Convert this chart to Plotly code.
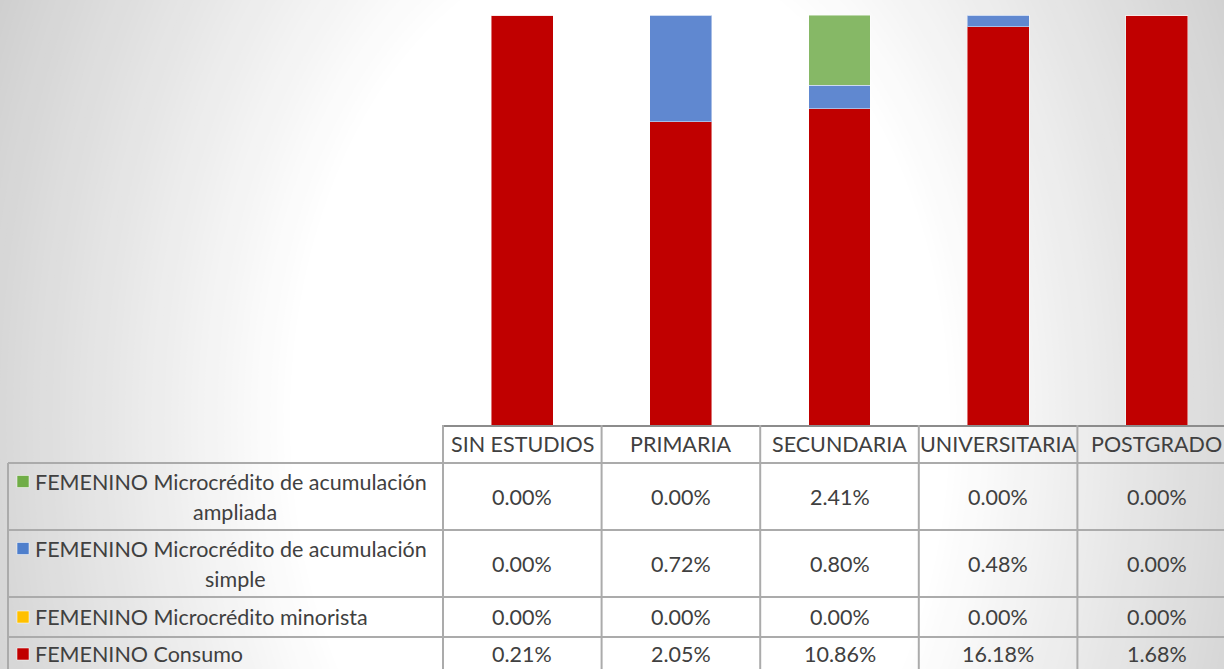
import plotly.graph_objects as go

# ---------------- data ----------------
categories = ["SIN ESTUDIOS", "PRIMARIA", "SECUNDARIA", "UNIVERSITARIA", "POSTGRADO"]
series_names = [
    "FEMENINO Consumo",
    "FEMENINO Microcrédito minorista",
    "FEMENINO Microcrédito de acumulación simple",
    "FEMENINO Microcrédito de acumulación ampliada",
]
consumo = [0.21, 2.05, 10.86, 16.18, 1.68]
minorista = [0.00, 0.00, 0.00, 0.00, 0.00]
acum_simple = [0.00, 0.72, 0.80, 0.48, 0.00]
acum_ampliada = [0.00, 0.00, 2.41, 0.00, 0.00]

# table rows, top to bottom (legend label lines, values)
table_rows = [
    (["FEMENINO Microcrédito de acumulación", "ampliada"], acum_ampliada),
    (["FEMENINO Microcrédito de acumulación", "simple"], acum_simple),
    (["FEMENINO Microcrédito minorista"], minorista),
    (["FEMENINO Consumo"], consumo),
]

# ---------------- styling ----------------
W, H = 1224, 669
bar_colors = ["#C00000", "#FFC000", "#6088D0", "#86B866"]
key_colors = ["#70AD47", "#4F7FCC", "#FFC000", "#C00000"]  # top-to-bottom rows
text_color = "#404040"
grid_color = "#ABABAB"
font_family = "Lato, Calibri, Carlito, sans-serif"
FS = 21.5


def px(x):
    return x / W


def py(y):
    return 1 - y / H


# pixel layout of the chart table
col_left = 443
col_w = 158.6
plot_top, plot_bottom = 15, 425
row_lines = [425, 463, 530, 597, 637, 669]

fig = go.Figure()
series = [consumo, minorista, acum_simple, acum_ampliada]
for name, vals, col in zip(series_names, series, bar_colors):
    fig.add_trace(go.Bar(
        x=list(range(len(categories))), y=vals, name=name,
        marker=dict(color=col, line=dict(color="rgba(255,255,255,0.45)", width=1)),
        hoverinfo="name+y",
    ))

shapes = []
# radial (elliptical) gradient background
cx, cy = 620, 420
rx0, ry0 = 330, 480
N = 60
s_max = 2.2
for i in range(N, -1, -1):
    s = 1 + (s_max - 1) * i / N
    g = max(205, int(round(255 - 44 * (s - 1))))
    c = f"rgb({g},{g},{g})"
    rx, ry = rx0 * s, ry0 * s
    shapes.append(dict(type="circle", xref="paper", yref="paper", layer="below",
                       x0=px(cx - rx), x1=px(cx + rx), y0=py(cy + ry), y1=py(cy - ry),
                       fillcolor=c, line=dict(width=0)))

# table grid
for k, y in enumerate(row_lines[1:-1]):
    shapes.append(dict(type="line", xref="paper", yref="paper", x0=px(8), x1=1,
                       y0=py(y), y1=py(y), line=dict(color=grid_color, width=2)))
for j in range(len(categories)):
    xv = col_left + j * col_w
    shapes.append(dict(type="line", xref="paper", yref="paper", x0=px(xv), x1=px(xv),
                       y0=py(425), y1=0, line=dict(color=grid_color, width=2)))
shapes.append(dict(type="line", xref="paper", yref="paper", x0=px(8), x1=px(8),
                   y0=py(463), y1=0, line=dict(color=grid_color, width=2)))

annotations = []
font = dict(family=font_family, size=FS, color=text_color)
# header
for i, c in enumerate(categories):
    annotations.append(dict(x=i, xref="x", y=py(444), yref="paper", text=c,
                            showarrow=False, font=font, xanchor="center", yanchor="middle"))
# rows
row_centers = [(row_lines[k + 1] + row_lines[k + 2]) / 2 for k in range(4)]
row_centers[-1] = 654
for k, (labels, vals) in enumerate(table_rows):
    yc = row_centers[k]
    for i, v in enumerate(vals):
        annotations.append(dict(x=i, xref="x", y=py(yc), yref="paper", text=f"{v:.2f}%",
                                showarrow=False, font=font, xanchor="center", yanchor="middle"))
    if len(labels) == 2:
        y1, y2 = yc - 15, yc + 15
        annotations.append(dict(x=px(33), y=py(y1), xref="paper", yref="paper", text=labels[0],
                                showarrow=False, font=font, xanchor="left", yanchor="middle"))
        annotations.append(dict(x=px(235), y=py(y2), xref="paper", yref="paper", text=labels[1],
                                showarrow=False, font=font, xanchor="center", yanchor="middle"))
        ky = y1
    else:
        annotations.append(dict(x=px(33), y=py(yc), xref="paper", yref="paper", text=labels[0],
                                showarrow=False, font=font, xanchor="left", yanchor="middle"))
        ky = yc
    shapes.append(dict(type="rect", xref="paper", yref="paper",
                       x0=px(17), x1=px(29), y0=py(ky + 6), y1=py(ky - 6),
                       fillcolor=key_colors[k],
                       line=dict(color="rgba(255,255,255,0.5)", width=1)))

span = (W - col_left) / col_w
fig.update_layout(
    width=W, height=H,
    margin=dict(l=0, r=0, t=0, b=0),
    paper_bgcolor="rgb(205,205,205)",
    plot_bgcolor="rgba(0,0,0,0)",
    barmode="stack", barnorm="percent", bargap=0.61,
    showlegend=False,
    xaxis=dict(domain=[px(col_left), 1], range=[-0.5, -0.5 + span],
               showticklabels=False, showgrid=False, zeroline=False,
               showline=True, linecolor="#8C8C8C", linewidth=2, fixedrange=True),
    yaxis=dict(domain=[py(plot_bottom), py(plot_top)], range=[0, 100],
               showticklabels=False, showgrid=False, zeroline=False, visible=False),
    shapes=shapes, annotations=annotations,
    font=font,
)

fig.write_html(
    "out.html",
    config={"displayModeBar": False},
    post_script="document.body.style.margin='0';document.body.style.overflow='hidden';",
)
